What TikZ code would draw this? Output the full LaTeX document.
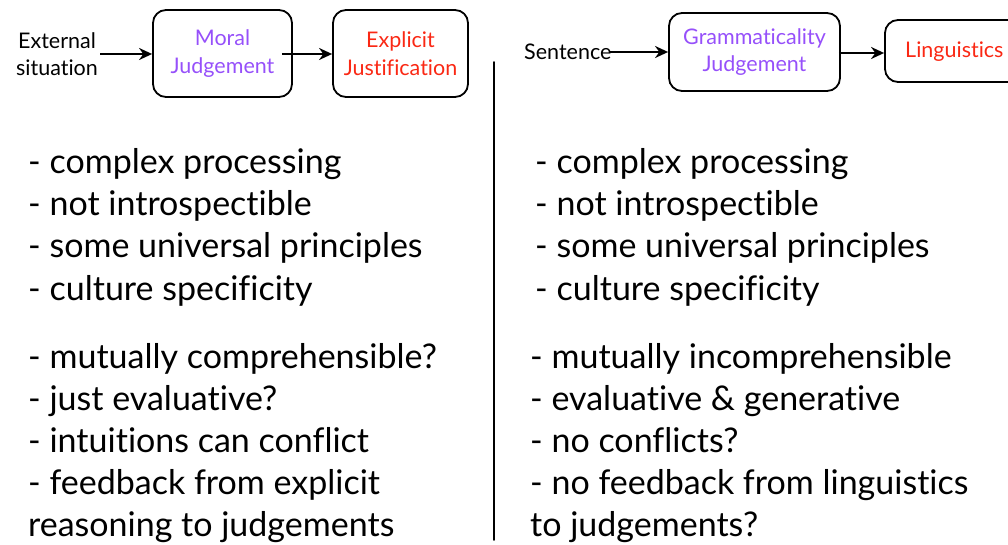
\documentclass[tikz,border=0pt]{standalone}
\usepackage{fontspec}
\setmainfont[Ligatures={NoCommon,NoDiscretionary,NoRare}]{Lato}
\usetikzlibrary{arrows.meta}
\definecolor{mpurple}{RGB}{150,80,250}
\definecolor{mred}{RGB}{250,40,20}
\tikzset{
  box/.style={draw=black, line width=1.8pt, rounded corners=13pt, inner sep=0pt},
  arr/.style={line width=2.2pt, -{Stealth[length=13pt,width=12pt]}},
  lbl/.style={font=\fontsize{21.5}{27.5}\selectfont, align=center, inner sep=0pt},
  item/.style={anchor=base west, inner sep=0pt, font=\fontsize{34}{40}\selectfont}
}
\begin{document}
\begin{tikzpicture}[x=1pt,y=-1pt]
\useasboundingbox (0,0) rectangle (1008,545);
% left diagram
\node[lbl] (ext) at (57,54) {External\\situation};
\node[box, minimum width=139pt, minimum height=87pt] (moral) at (222.5,53.5) {};
\node[lbl, text=mpurple] at (moral) {Moral\\Judgement};
\node[box, minimum width=135pt, minimum height=87pt] (expl) at (400.5,53.5) {};
\node[lbl, text=mred] at (expl) {Explicit\\Justification};
\draw[arr] (ext.east |- 0,54) ++(2,0) coordinate (e1) -- (moral.west |- e1);
\draw[arr] (moral.east |- 0,54) ++(-11,0) -- (expl.west |- 0,54);
% divider
\draw[line width=1.8pt, line cap=round] (494,62) -- (494,540);
% right diagram
\node[lbl, anchor=west] (sent) at (524,52) {Sentence};
\node[box, minimum width=171pt, minimum height=78pt] (gram) at (754.5,52) {};
\node[lbl, text=mpurple] at (gram) {Grammaticality\\Judgement};
\node[box, minimum width=160pt, minimum height=62pt] (ling) at (965,51) {};
\node[lbl, text=mred, anchor=west] at (905,52) {Linguistics};
\draw[arr] (sent.east |- 0,52) ++(-3,0) -- (gram.west |- 0,52);
\draw[arr] (gram.east |- 0,53) ++(-2,0) -- (ling.west |- 0,53);
% left lists
\node[item] (l1) at (28,174) {- complex processing};
\node[item] (l2) at (28,216) {- not introspectible};
\node[item] (l3) at (28,258) {- some universal principles};
\node[item] (l4) at (28,300) {- culture specificity};
\node[item] (l5) at (28,368) {- mutually comprehensible?};
\node[item] (l6) at (28,410) {- just evaluative?};
\node[item] (l7) at (28,452) {- intuitions can conflict};
\node[item] (l8) at (28,494) {- feedback from explicit};
\node[item] (l9) at (28,536) {reasoning to judgements};
% right lists
\node[item] (r1) at (535,174) {- complex processing};
\node[item] (r2) at (535,216) {- not introspectible};
\node[item] (r3) at (535,258) {- some universal principles};
\node[item] (r4) at (535,300) {- culture specificity};
\node[item] (r5) at (530,368) {- mutually incomprehensible};
\node[item] (r6) at (530,410) {- evaluative \& generative};
\node[item] (r7) at (530,452) {- no conflicts?};
\node[item] (r8) at (530,494) {- no feedback from linguistics};
\node[item] (r9) at (530,536) {to judgements?};
\end{tikzpicture}
\end{document}
